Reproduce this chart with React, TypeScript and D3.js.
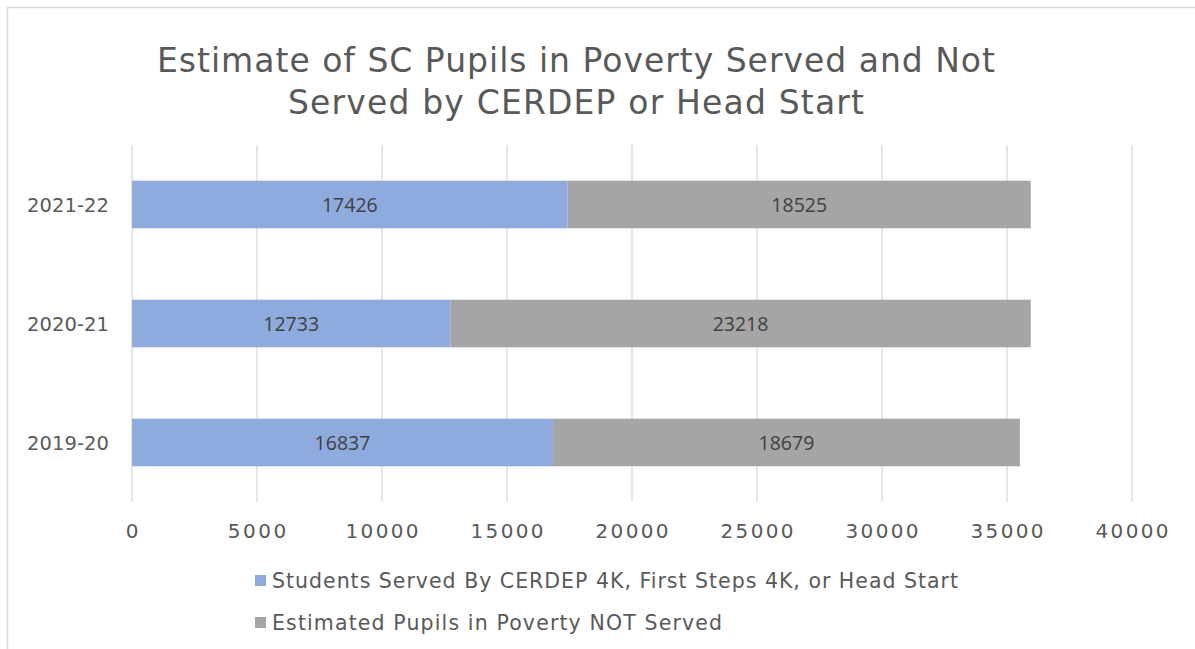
import React from "react";
import { scaleLinear, scaleBand, stack } from "d3";

const categories = ["2021-22", "2020-21", "2019-20"];
const served = [17426, 12733, 16837];
const notServed = [18525, 23218, 18679];
const xTicks = [0, 5000, 10000, 15000, 20000, 25000, 30000, 35000, 40000];
const seriesNames = [
  "Students Served By CERDEP 4K, First Steps 4K, or Head Start",
  "Estimated Pupils in Poverty NOT Served",
];
const colors = ["#8faadc", "#a5a5a5"];
const titleLines = [
  "Estimate of SC Pupils in Poverty Served and Not",
  "Served by CERDEP or Head Start",
];

const W = 1195;
const H = 649;
const margin = { left: 132, right: 63, top: 145, bottom: 147 };
const font = "'DejaVu Sans', sans-serif";

export default function App() {
  const rows = categories.map((c, i) => ({ cat: c, s0: served[i], s1: notServed[i] }));
  const layers = stack<any>().keys(["s0", "s1"])(rows);

  const x = scaleLinear().domain([0, 40000]).range([margin.left, W - margin.right]);
  const y = scaleBand()
    .domain(categories)
    .range([margin.top, H - margin.bottom])
    .paddingInner(0.6)
    .paddingOuter(0.3);

  // widths of the wide original font, to keep text spans like the reference
  const titleWidths = [838, 576];
  const legendWidths = [686, 450];

  return (
    <svg width={W} height={H} style={{ position: "absolute", left: 0, top: 0 }}>
      <rect x={0} y={0} width={W} height={H} fill="#fff" />
      <rect x={7.5} y={7.5} width={W + 20} height={H + 20} fill="none" stroke="#d9d9d9" strokeWidth={1.5} />
      {titleLines.map((t, i) => (
        <text
          key={t}
          x={576}
          y={72 + i * 42}
          textAnchor="middle"
          fontFamily={font}
          fontSize={33}
          fill="#595959"
          textLength={titleWidths[i]}
          lengthAdjust="spacing"
        >
          {t}
        </text>
      ))}
      {xTicks.map((t) => (
        <g key={t}>
          <line x1={x(t)} x2={x(t)} y1={margin.top} y2={H - margin.bottom} stroke="#d9d9d9" strokeWidth={1.3} />
          <text
            x={x(t)}
            y={538}
            textAnchor="middle"
            fontFamily={font}
            fontSize={20}
            fill="#595959"
            textLength={String(t).length * 14.6}
            lengthAdjust="spacing"
          >
            {t}
          </text>
        </g>
      ))}
      {layers.map((layer, li) =>
        layer.map((d, i) => {
          const cat = categories[i];
          const yy = y(cat)!;
          const x0 = x(d[0]);
          const x1 = x(d[1]);
          const v = d[1] - d[0];
          return (
            <g key={li + cat}>
              <rect x={x0} y={yy} width={x1 - x0} height={y.bandwidth()} fill={colors[li]} />
              <text
                x={(x0 + x1) / 2}
                y={yy + y.bandwidth() / 2 + 7}
                textAnchor="middle"
                fontFamily="'Open Sans', sans-serif"
                fontSize={19.5}
                fill="#404040"
              >
                {v}
              </text>
            </g>
          );
        })
      )}
      {categories.map((c) => (
        <text
          key={c}
          x={109}
          y={y(c)! + y.bandwidth() / 2 + 7}
          textAnchor="end"
          fontFamily={font}
          fontSize={19.5}
          fill="#595959"
          textLength={82}
          lengthAdjust="spacing"
        >
          {c}
        </text>
      ))}
      {seriesNames.map((s, i) => (
        <g key={s}>
          <rect x={255} y={575 + i * 42} width={11} height={11} fill={colors[i]} />
          <text
            x={272}
            y={588 + i * 42}
            fontFamily={font}
            fontSize={20.5}
            fill="#595959"
            textLength={legendWidths[i]}
            lengthAdjust="spacing"
          >
            {s}
          </text>
        </g>
      ))}
    </svg>
  );
}
